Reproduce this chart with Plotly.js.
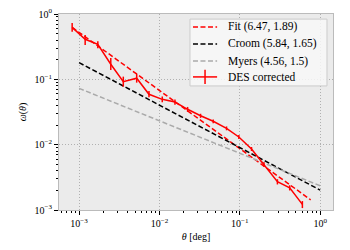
<!DOCTYPE html>
<html>
<head>
<meta charset="utf-8">
<script src="https://cdn.plot.ly/plotly-3.0.1.min.js"></script>
<style>html,body{margin:0;padding:0;background:#fff;}#chart{width:350px;height:250px;}</style>
</head>
<body>
<div id="chart"></div>
<script>
// DES corrected measurements
const thetaDES = [0.00082, 0.00119, 0.00171, 0.00248, 0.00355, 0.00521, 0.00741, 0.01084, 0.0156, 0.0224, 0.0325, 0.0467, 0.0684, 0.0973, 0.14, 0.2, 0.294, 0.418, 0.601];
const omegaDES = [0.625, 0.41, 0.344, 0.170, 0.092, 0.104, 0.059, 0.0494, 0.045, 0.0348, 0.0277, 0.0228, 0.0178, 0.0131, 0.0086, 0.0050, 0.00271, 0.00219, 0.00122];
const errUp   = [0.10, 0.067, 0.04, 0.042, 0.018, 0.017, 0.007, 0.005, 0.004, 0.003, 0.002, 0.0015, 0.0012, 0.0009, 0.0006, 0.0004, 0.00025, 0.0002, 0.00015];
const errDown = [0.09, 0.074, 0.044, 0.031, 0.015, 0.015, 0.006, 0.005, 0.004, 0.003, 0.002, 0.0015, 0.0012, 0.0009, 0.0006, 0.0004, 0.00025, 0.0002, 0.00015];

// Model power laws (end points)
const fitTheta = [0.00082, 0.762];
const fitOmega = [0.625, 0.00143];
const croomTheta = [0.001, 1.0];
const croomOmega = [0.18, 0.00202];
const myersTheta = [0.001, 1.0];
const myersOmega = [0.0728, 0.00235];

const names = ['Fit (6.47, 1.89)', 'Croom (5.84, 1.65)', 'Myers (4.56, 1.5)', 'DES corrected'];
const colors = ['#ff0000', '#000000', '#aaaaaa', '#ff0000'];

// Tick labels
const xTickVals = [0.001, 0.01, 0.1, 1];
const xTickText = ['10<sup>−3</sup>', '10<sup>−2</sup>', '10<sup>−1</sup>', '10<sup>0</sup>'];
const yTickVals = [0.001, 0.01, 0.1, 1];
const yTickText = ['10<sup>−3</sup>', '10<sup>−2</sup>', '10<sup>−1</sup>', '10<sup>0</sup>'];
const xMinorVals = [0.0006, 0.0007, 0.0008, 0.0009,
  0.002, 0.003, 0.004, 0.005, 0.006, 0.007, 0.008, 0.009,
  0.02, 0.03, 0.04, 0.05, 0.06, 0.07, 0.08, 0.09,
  0.2, 0.3, 0.4, 0.5, 0.6, 0.7, 0.8, 0.9];
const yMinorVals = [0.002, 0.003, 0.004, 0.005, 0.006, 0.007, 0.008, 0.009,
  0.02, 0.03, 0.04, 0.05, 0.06, 0.07, 0.08, 0.09,
  0.2, 0.3, 0.4, 0.5, 0.6, 0.7, 0.8, 0.9];

const font = "Liberation Serif";
const DASH = '5px,2.5px';

const traces = [
  {x: fitTheta, y: fitOmega, mode: 'lines', name: names[0],
   line: {color: colors[0], width: 1.5, dash: DASH}},
  {x: croomTheta, y: croomOmega, mode: 'lines', name: names[1],
   line: {color: colors[1], width: 1.5, dash: DASH}},
  {x: myersTheta, y: myersOmega, mode: 'lines', name: names[2],
   line: {color: colors[2], width: 1.5, dash: DASH}},
  {x: thetaDES, y: omegaDES, mode: 'lines', name: names[3],
   line: {color: colors[3], width: 1.5},
   error_y: {type: 'data', symmetric: false, array: errUp, arrayminus: errDown,
             color: colors[3], thickness: 1.5, width: 0}}
];

function axis(extra) {
  return Object.assign({
    type: 'log', tickmode: 'array',
    showgrid: true, gridcolor: '#b0b0b0', griddash: '1px,2px', gridwidth: 1,
    ticks: 'outside', ticklen: 4, tickcolor: '#000', tickwidth: 1,
    showline: true, linecolor: '#bbbbbb', linewidth: 1, mirror: true, zeroline: false,
    tickfont: {family: font, size: 10, color: '#000'}
  }, extra);
}

// Hand-built legend (matplotlib style), in paper coordinates
const legBox = {x0: 0.478, x1: 0.978, y0: 0.633, y1: 0.974};
const legRows = [0.934, 0.847, 0.760, 0.679];
const sampleX = [0.489, 0.577];
const textX = 0.609;
const shapes = [{type: 'rect', xref: 'paper', yref: 'paper', layer: 'above',
  x0: legBox.x0, x1: legBox.x1, y0: legBox.y0, y1: legBox.y1,
  fillcolor: 'rgba(248,248,248,0.85)', line: {color: '#cccccc', width: 1}}];
const annotations = [];
names.forEach((n, i) => {
  shapes.push({type: 'line', xref: 'paper', yref: 'paper', layer: 'above',
    x0: sampleX[0], x1: sampleX[1], y0: legRows[i], y1: legRows[i],
    line: {color: colors[i], width: 1.5, dash: i < 3 ? DASH : 'solid'}});
  annotations.push({xref: 'paper', yref: 'paper', x: textX, y: legRows[i],
    xanchor: 'left', yanchor: 'middle', showarrow: false, text: n,
    font: {family: font, size: 11.5, color: '#000'}});
});
shapes.push({type: 'line', xref: 'paper', yref: 'paper', layer: 'above',
  x0: (sampleX[0] + sampleX[1]) / 2, x1: (sampleX[0] + sampleX[1]) / 2,
  y0: legRows[3] - 0.036, y1: legRows[3] + 0.036,
  line: {color: colors[3], width: 1.5}});

const layout = {
  width: 350, height: 250,
  margin: {l: 59, r: 17, t: 14, b: 40},
  paper_bgcolor: '#ffffff',
  plot_bgcolor: '#ebebeb',
  font: {family: font, size: 11, color: '#000'},
  showlegend: false,
  shapes: shapes,
  annotations: annotations,
  xaxis: axis({range: [-3.25, 0.16], tickvals: xTickVals, ticktext: xTickText,
          minor: {tickmode: 'array', tickvals: xMinorVals, ticks: 'outside', ticklen: 2, tickcolor: '#000', showgrid: false},
          title: {text: '<i>θ</i> [deg]', font: {family: font, size: 10, color: '#000'}, standoff: 4}}),
  yaxis: axis({range: [-3, 0], tickvals: yTickVals, ticktext: yTickText,
          minor: {tickmode: 'array', tickvals: yMinorVals, ticks: 'outside', ticklen: 2, tickcolor: '#000', showgrid: false},
          title: {text: '<i>ω</i>(<i>θ</i>)', font: {family: font, size: 10, color: '#000'}, standoff: 6}})
};

Plotly.newPlot('chart', traces, layout, {displayModeBar: false, staticPlot: true});
</script>
</body>
</html>
